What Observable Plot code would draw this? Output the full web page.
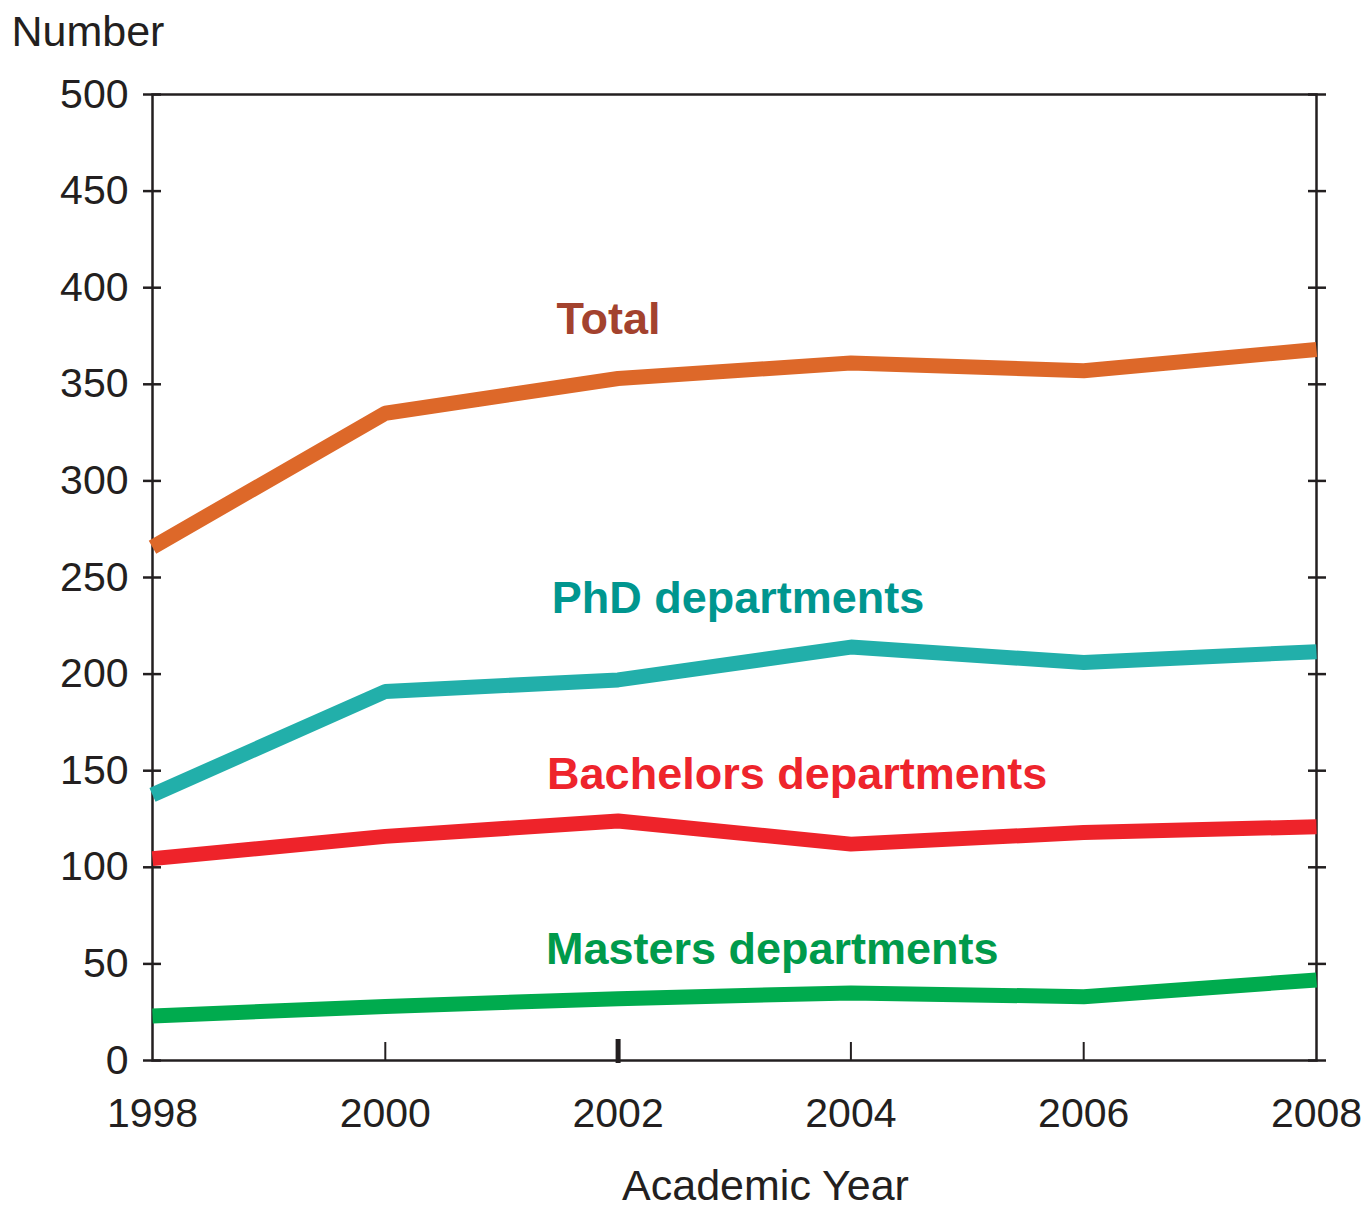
<!DOCTYPE html>
<html>
<head>
<meta charset="utf-8">
<script src="https://cdn.jsdelivr.net/npm/d3@7"></script>
<script src="https://cdn.jsdelivr.net/npm/@observablehq/plot@0.6"></script>
<style>
  html, body { margin: 0; padding: 0; background: #fff; }
</style>
</head>
<body>
<div id="chart"></div>
<script>
const years = [1998, 2000, 2002, 2004, 2006, 2008];
const total = [265.7, 335, 353, 361, 357, 368];
const phd = [137.5, 191, 197, 214, 206, 211.6];
const bachelors = [104.5, 116, 124, 112, 118, 121];
const masters = [23, 28, 32, 35, 33, 41.7];

const seriesNames = ["Total", "PhD departments", "Bachelors departments", "Masters departments"];
const seriesValues = [total, phd, bachelors, masters];
const lineColors = ["#DD6829", "#22AFAA", "#EE232A", "#00AB4E"];
const labelColors = ["#A3422E", "#00968F", "#EE242C", "#009A4B"];
// label anchor positions (year, value) for the in-chart series labels
const labelYears = [2001.47, 2001.43, 2001.39, 2001.38];
const labelValues = [375.8, 231.4, 140.3, 50.2];

const yTicks = [0, 50, 100, 150, 200, 250, 300, 350, 400, 450, 500];
const xTicks = [1998, 2000, 2002, 2004, 2006, 2008];
const xInnerTicks = [2000, 2004, 2006];
const xBoldTicks = [2002];

const rows = [];
seriesNames.forEach((name, i) => {
  years.forEach((yr, j) => rows.push({series: name, year: yr, value: seriesValues[i][j]}));
});
const labels = seriesNames.map((name, i) => ({
  text: name, year: labelYears[i], value: labelValues[i], color: labelColors[i]
}));

const ink = "#231f20";
const chart = Plot.plot({
  width: 1367,
  height: 1209,
  marginLeft: 152,
  marginRight: 51,
  marginTop: 94,
  marginBottom: 149,
  x: {domain: [1998, 2008]},
  y: {domain: [0, 500]},
  color: {domain: seriesNames, range: lineColors},
  style: {fontFamily: "'Liberation Sans', Arial, Helvetica, sans-serif", fontSize: "41px", color: ink, background: "#fff", overflow: "visible"},
  marks: [
    Plot.axisY({ticks: yTicks, tickSize: 0, tickPadding: 24, tickFormat: "d", label: null, fontSize: 41}),
    Plot.axisY({ticks: yTicks, tickSize: 18, dx: 9, text: null, label: null, strokeWidth: 2.5, stroke: ink}),
    Plot.axisY({anchor: "right", ticks: yTicks, tickSize: 18, dx: -9, text: null, label: null, strokeWidth: 2.5, stroke: ink}),
    Plot.axisX({ticks: xTicks, tickSize: 0, tickPadding: 37, tickFormat: "d", label: null, fontSize: 41}),
    Plot.axisX({ticks: xInnerTicks, tickSize: 18, dy: -18, text: null, label: null, strokeWidth: 2, stroke: ink}),
    Plot.axisX({ticks: xBoldTicks, tickSize: 24, dy: -21, text: null, label: null, strokeWidth: 5, stroke: ink}),
    Plot.frame({stroke: ink, strokeWidth: 2.5}),
    Plot.line(rows, {x: "year", y: "value", z: "series", stroke: "series", strokeWidth: 15, strokeLinecap: "butt", strokeLinejoin: "miter"}),
    Plot.text(labels, {x: "year", y: "value", text: "text", fill: "color", fontWeight: "bold", fontSize: 45, textAnchor: "start", lineAnchor: "bottom"}),
    Plot.text(["Number"], {frameAnchor: "top-left", text: d => d, textAnchor: "start", lineAnchor: "bottom", dx: -141, dy: -49, fontSize: 43, fill: ink}),
    Plot.text(["Academic Year"], {frameAnchor: "bottom", text: d => d, lineAnchor: "bottom", dx: 31, dy: 139, fontSize: 43, fill: ink})
  ]
});
document.getElementById("chart").appendChild(chart);
</script>
</body>
</html>
